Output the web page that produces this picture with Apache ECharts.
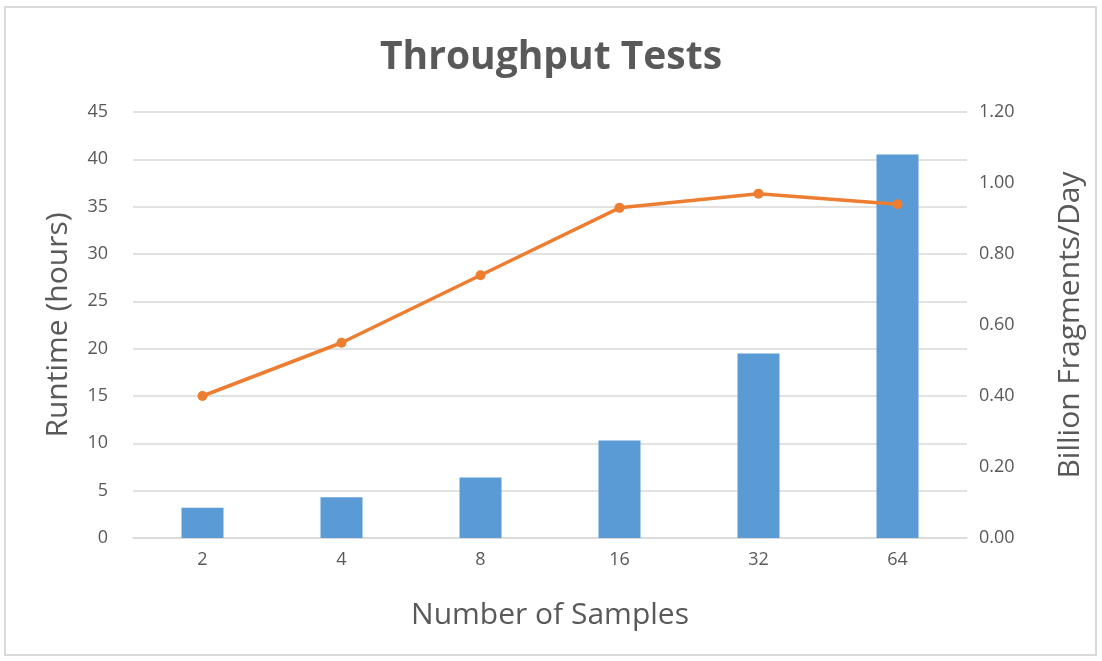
<!DOCTYPE html>
<html>
<head>
<meta charset="utf-8">
<script src="https://cdn.jsdelivr.net/npm/echarts@6/dist/echarts.min.js"></script>
<style>
html,body{margin:0;padding:0;background:#fff;}
#chart{width:1102px;height:661px;}
</style>
</head>
<body>
<div id="chart"></div>
<script>
const categories = ['2', '4', '8', '16', '32', '64'];
const runtimeHours = [3.2, 4.3, 6.4, 10.3, 19.5, 40.5];
const billionFragmentsPerDay = [0.40, 0.55, 0.74, 0.93, 0.97, 0.94];

const chart = echarts.init(document.getElementById('chart'));
const font = 'Open Sans, Lato, sans-serif';
const grey = '#595959';
chart.setOption({
  animation: false,
  graphic: [{
    type: 'rect',
    shape: {x: 5, y: 7, width: 1091, height: 648},
    style: {fill: 'none', stroke: '#d9d9d9', lineWidth: 2},
    silent: true
  }],
  title: {
    text: 'Throughput Tests',
    left: 'center',
    top: 33,
    textStyle: {fontFamily: font, fontSize: 39, fontWeight: 'bold', color: grey}
  },
  grid: {left: 133, right: 135, top: 112, bottom: 123},
  xAxis: {
    type: 'category',
    data: categories,
    name: 'Number of Samples',
    nameLocation: 'middle',
    nameGap: 62,
    nameTextStyle: {fontFamily: font, fontSize: 30, color: grey},
    axisLine: {show: true, lineStyle: {color: '#d9d9d9', width: 1.5}},
    axisTick: {show: false},
    axisLabel: {fontFamily: font, fontSize: 18, color: grey, margin: 13}
  },
  yAxis: [{
    type: 'value',
    min: 0, max: 45, interval: 5,
    name: 'Runtime (hours)',
    nameLocation: 'middle',
    nameGap: 60,
    nameTextStyle: {fontFamily: font, fontSize: 30, color: grey},
    axisLine: {show: false},
    axisTick: {show: false},
    axisLabel: {fontFamily: font, fontSize: 18, color: grey, margin: 25},
    splitLine: {lineStyle: {color: '#d9d9d9', width: 1.5}}
  }, {
    type: 'value',
    min: 0, max: 1.2, interval: 0.2,
    name: 'Billion Fragments/Day',
    nameLocation: 'middle',
    nameGap: 88,
    nameRotate: 90,
    nameTextStyle: {fontFamily: font, fontSize: 30, color: grey},
    axisLine: {show: false},
    axisTick: {show: false},
    axisLabel: {fontFamily: font, fontSize: 18, color: grey, margin: 12,
      formatter: v => v.toFixed(2)},
    splitLine: {show: false}
  }],
  series: [{
    type: 'bar',
    data: runtimeHours,
    yAxisIndex: 0,
    barWidth: 42,
    itemStyle: {color: '#5B9BD5'}
  }, {
    type: 'line',
    data: billionFragmentsPerDay,
    yAxisIndex: 1,
    symbol: 'circle',
    symbolSize: 10,
    lineStyle: {color: '#ED7D31', width: 3.5},
    itemStyle: {color: '#ED7D31'}
  }]
});
</script>
</body>
</html>
